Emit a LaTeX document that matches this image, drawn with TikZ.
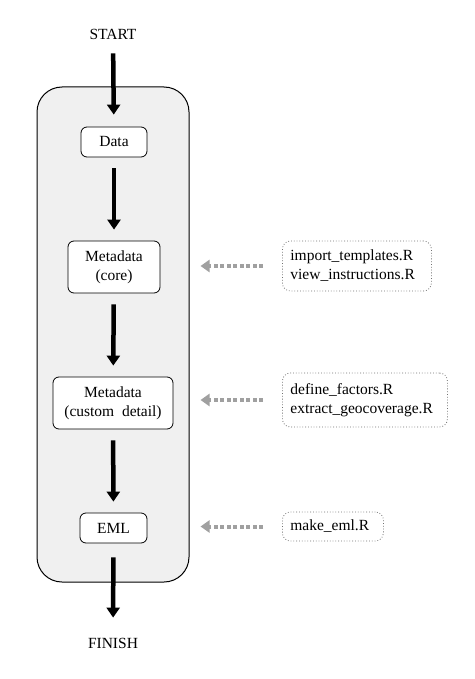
\documentclass[tikz,border=0pt]{standalone}
\usepackage{fontspec}
\setmainfont{Liberation Serif}
\newfontfamily\labelfont{Liberation Serif}
\usetikzlibrary{arrows.meta}
\definecolor{panelgray}{HTML}{F0F0F0}
\definecolor{feedgray}{HTML}{A0A0A0}
\definecolor{edgegray}{HTML}{707070}
\begin{document}
\begin{tikzpicture}[x=1pt,y=-1pt,
  font=\labelfont\fontsize{15.5}{19}\selectfont,
  panel/.style={draw=black,line width=1pt,fill=panelgray,rounded corners=25pt,
    minimum width=152pt,minimum height=495pt,inner sep=0pt},
  flowbox/.style={draw=black,line width=0.8pt,fill=white,rounded corners=6pt,
    align=center,inner sep=0pt},
  scriptbox/.style={draw=edgegray,line width=0.8pt,dotted,fill=white,rounded corners=8pt,
    align=left,anchor=west,inner xsep=8pt,inner ysep=0pt},
  label/.style={inner sep=0pt},
  mainarrow/.style={line width=4.5pt,-{Triangle[width=13pt,length=10pt]},
    shorten <=11pt,shorten >=11pt},
  feedarrow/.style={line width=4pt,feedgray,dash pattern=on 4pt off 2.5pt,
    -{Triangle[width=12pt,length=9pt]},shorten <=19pt,shorten >=11pt}
]
\useasboundingbox (0,0) rectangle (474,679);

% enclosing panel of the workflow
\node[panel] (frame) at (113,334.5) {};

% workflow stages
\node[label] (start) at (113,34) {START};
\node[flowbox,minimum width=66pt,minimum height=30pt] (data) at (114,142) {Data};
\node[flowbox,minimum width=92pt,minimum height=52pt] (core) at (114,267) {Metadata\\(core)};
\node[flowbox,minimum width=120pt,minimum height=52pt] (custom) at (113,403) {Metadata\\(custom\enspace detail)};
\node[flowbox,minimum width=67pt,minimum height=30pt] (eml) at (113.5,528) {EML};
\node[label] (finish) at (113,643) {FINISH};

% helper scripts
\node[scriptbox,text width=133pt,minimum height=50pt] (s1) at (282,266)
  {import\_templates.R\\view\_instructions.R};
\node[scriptbox,text width=149pt,minimum height=54pt] (s2) at (282,400)
  {define\_factors.R\\extract\_geocoverage.R};
\node[scriptbox,text width=85pt,minimum height=29pt] (s3) at (282,526.5)
  {make\_eml.R};

% main flow
\draw[mainarrow,shorten <=14pt,shorten >=12pt] (start) -- (data);
\draw[mainarrow] (data) -- (core);
\draw[mainarrow] (core) -- (custom);
\draw[mainarrow] (custom) -- (eml);
\draw[mainarrow,shorten <=14pt,shorten >=20pt] (eml) -- (finish);

% script inputs
\draw[feedarrow] (s1.west) -- (s1.west -| frame.east);
\draw[feedarrow] (s2.west) -- (s2.west -| frame.east);
\draw[feedarrow] (s3.west) -- (s3.west -| frame.east);
\end{tikzpicture}
\end{document}
